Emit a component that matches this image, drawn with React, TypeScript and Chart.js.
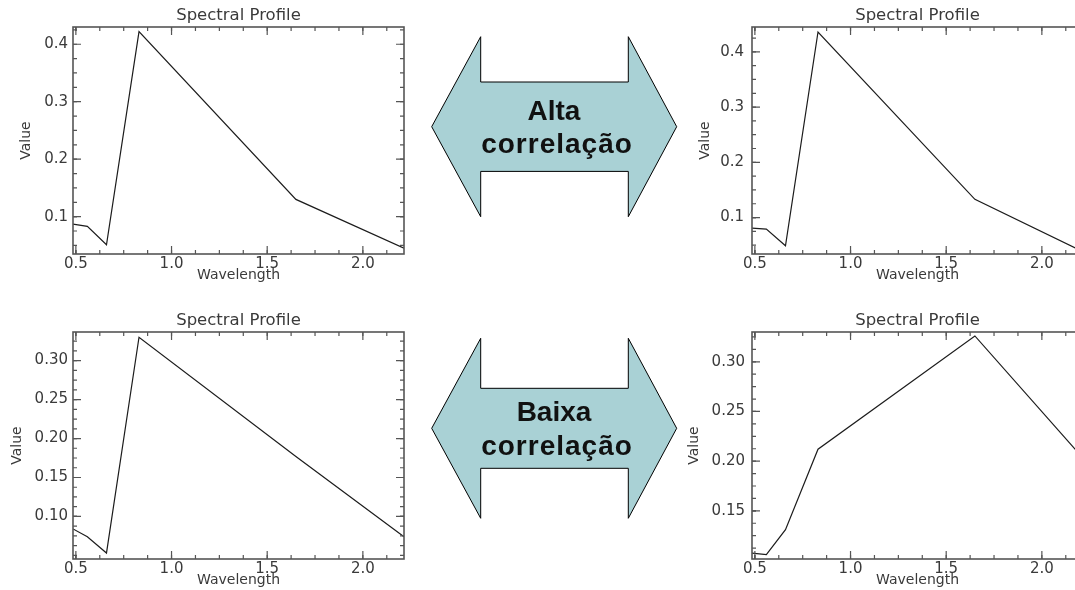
import React, { useEffect, useRef } from 'react';
import { Chart, registerables } from 'chart.js';

Chart.register(...registerables);

// ---------- data ----------
const WAVELENGTHS = [0.485, 0.56, 0.66, 0.83, 1.65, 2.215];
const HIGH_LEFT = [0.087, 0.083, 0.051, 0.422, 0.13, 0.045];
const HIGH_RIGHT = [0.081, 0.079, 0.049, 0.436, 0.133, 0.038];
const LOW_LEFT = [0.084, 0.074, 0.053, 0.33, 0.177, 0.074];
const LOW_RIGHT = [0.1075, 0.106, 0.131, 0.212, 0.326, 0.203];

const X_TICKS = [0.5, 1.0, 1.5, 2.0];
const X_TICK_LABELS = ['0.5', '1.0', '1.5', '2.0'];
const Y_TICKS_HIGH = [0.1, 0.2, 0.3, 0.4];
const Y_TICK_LABELS_HIGH = ['0.1', '0.2', '0.3', '0.4'];
const Y_TICKS_LOW_LEFT = [0.1, 0.15, 0.2, 0.25, 0.3];
const Y_TICK_LABELS_LOW_LEFT = ['0.10', '0.15', '0.20', '0.25', '0.30'];
const Y_TICKS_LOW_RIGHT = [0.15, 0.2, 0.25, 0.3];
const Y_TICK_LABELS_LOW_RIGHT = ['0.15', '0.20', '0.25', '0.30'];

const X_RANGE = [0.485, 2.215];
const Y_RANGE_HIGH_LEFT = [0.035, 0.43];
const Y_RANGE_HIGH_RIGHT = [0.034, 0.445];
const Y_RANGE_LOW_LEFT = [0.0454, 0.3367];
const Y_RANGE_LOW_RIGHT = [0.1015, 0.33];

const CHART_TITLE = 'Spectral Profile';
const X_TITLE = 'Wavelength';
const Y_TITLE = 'Value';
const ARROW_HIGH = ['Alta', 'correlação'];
const ARROW_LOW = ['Baixa', 'correlação'];

// ---------- style ----------
const TEXT = '#3a3a3a';
const FONT = '"DejaVu Sans", sans-serif';

const idlFrame = {
  id: 'idlFrame',
  afterDatasetsDraw(chart: any) {
    const { ctx, chartArea: a, scales } = chart;
    const x = scales.x;
    const y = scales.y;
    ctx.save();
    ctx.strokeStyle = '#555';
    ctx.lineWidth = 1.6;
    ctx.strokeRect(a.left, a.top, a.right - a.left, a.bottom - a.top);
    ctx.lineWidth = 1.2;
    const drawX = (v: number, len: number) => {
      const px = x.getPixelForValue(v);
      if (px < a.left + 1 || px > a.right - 1) return;
      ctx.beginPath();
      ctx.moveTo(px, a.bottom);
      ctx.lineTo(px, a.bottom - len);
      ctx.moveTo(px, a.top);
      ctx.lineTo(px, a.top + len);
      ctx.stroke();
    };
    const drawY = (v: number, len: number) => {
      const py = y.getPixelForValue(v);
      if (py < a.top + 1 || py > a.bottom - 1) return;
      ctx.beginPath();
      ctx.moveTo(a.left, py);
      ctx.lineTo(a.left + len, py);
      ctx.moveTo(a.right, py);
      ctx.lineTo(a.right - len, py);
      ctx.stroke();
    };
    const minorTicks = (scale: any, draw: (v: number, l: number) => void) => {
      const t = scale.ticks.map((k: any) => k.value);
      const step = (t[1] - t[0]) / 4;
      for (let v = t[0]; v >= scale.min; v -= step) draw(v, 4);
      for (let v = t[0]; v <= scale.max; v += step) draw(v, 4);
      t.forEach((v: number) => draw(v, 8));
    };
    minorTicks(x, drawX);
    minorTicks(y, drawY);
    ctx.restore();
  },
};

type PanelProps = {
  left: number;
  top: number;
  values: number[];
  yRange: number[];
  yTicks: number[];
  yTickLabels: string[];
  yPad: number;
  yTitlePad: number;
};

function Panel({ left, top, values, yRange, yTicks, yTickLabels, yPad, yTitlePad }: PanelProps) {
  const ref = useRef<HTMLCanvasElement>(null);
  useEffect(() => {
    if (!ref.current) return;
    const chart = new Chart(ref.current, {
      type: 'line',
      data: {
        datasets: [
          {
            data: WAVELENGTHS.map((w, i) => ({ x: w, y: values[i] })),
            borderColor: '#1c1c1c',
            borderWidth: 1.2,
            pointRadius: 0,
            tension: 0,
          },
        ],
      },
      options: {
        animation: false,
        responsive: false,
        layout: { padding: { left: 0, top: 0, right: 16, bottom: 0 } },
        plugins: {
          legend: { display: false },
          tooltip: { enabled: false },
          title: {
            display: true,
            text: CHART_TITLE,
            color: TEXT,
            fullSize: false,
            font: { family: FONT, size: 16.5, weight: 'normal' },
            padding: { top: 5.5, bottom: 1.7 },
          },
        },
        scales: {
          x: {
            type: 'linear',
            min: X_RANGE[0],
            max: X_RANGE[1],
            afterBuildTicks: (s: any) => {
              s.ticks = X_TICKS.map((value) => ({ value }));
            },
            afterFit: (s: any) => {
              s.height = 36;
            },
            grid: { display: false, drawTicks: false },
            border: { display: false },
            ticks: {
              autoSkip: false,
              maxRotation: 0,
              padding: 1,
              color: TEXT,
              font: { family: FONT, size: 15 },
              callback: (_v: any, i: number) => X_TICK_LABELS[i],
            },
            title: {
              display: true,
              text: X_TITLE,
              color: TEXT,
              font: { family: FONT, size: 14 },
              padding: { top: 0, bottom: 6 },
            },
          },
          y: {
            type: 'linear',
            min: yRange[0],
            max: yRange[1],
            afterBuildTicks: (s: any) => {
              s.ticks = yTicks.map((value) => ({ value }));
            },
            afterFit: (s: any) => {
              s.width = 73;
            },
            grid: { display: false, drawTicks: false },
            border: { display: false },
            ticks: {
              autoSkip: false,
              padding: yPad,
              color: TEXT,
              font: { family: FONT, size: 15 },
              callback: (_v: any, i: number) => yTickLabels[i],
            },
            title: {
              display: true,
              text: Y_TITLE,
              color: TEXT,
              font: { family: FONT, size: 14 },
              padding: { top: yTitlePad, bottom: 0 },
            },
          },
        },
      } as any,
      plugins: [idlFrame],
    });
    return () => chart.destroy();
  }, []);
  return (
    <canvas
      ref={ref}
      width={420}
      height={290}
      style={{ position: 'absolute', left, top, width: 420, height: 290 }}
    />
  );
}

const ARROW_FONT = '"Liberation Sans", Arial, sans-serif';

function DoubleArrow({ cy, headHalf, shaftHalf, lines }: { cy: number; headHalf: number; shaftHalf: number; lines: string[] }) {
  const l = 431.7, hl = 480.7, hr = 628.3, r = 676.7;
  const pts = [
    [l, cy],
    [hl, cy - headHalf],
    [hl, cy - shaftHalf],
    [hr, cy - shaftHalf],
    [hr, cy - headHalf],
    [r, cy],
    [hr, cy + headHalf],
    [hr, cy + shaftHalf],
    [hl, cy + shaftHalf],
    [hl, cy + headHalf],
  ]
    .map((p) => p.join(','))
    .join(' ');
  return (
    <g>
      <polygon points={pts} fill="#a9d1d5" stroke="#000" strokeWidth={1} />
      <text x={554} y={cy - 7} textAnchor="middle" fontFamily={ARROW_FONT} fontWeight="bold" fontSize={28} fill="#111">
        {lines[0]}
      </text>
      <text x={557} y={cy + 26.5} textAnchor="middle" fontFamily={ARROW_FONT} fontWeight="bold" fontSize={28} letterSpacing={1} fill="#111">
        {lines[1]}
      </text>
    </g>
  );
}

export default function App() {
  return (
    <div
      style={{
        position: 'fixed',
        left: 0,
        top: 0,
        width: 1075,
        height: 590,
        overflow: 'hidden',
        background: '#fff',
      }}
    >
      <Panel left={0} top={0} values={HIGH_LEFT} yRange={Y_RANGE_HIGH_LEFT} yTicks={Y_TICKS_HIGH} yTickLabels={Y_TICK_LABELS_HIGH} yPad={5} yTitlePad={18} />
      <Panel left={679} top={0} values={HIGH_RIGHT} yRange={Y_RANGE_HIGH_RIGHT} yTicks={Y_TICKS_HIGH} yTickLabels={Y_TICK_LABELS_HIGH} yPad={8} yTitlePad={17.5} />
      <Panel left={0} top={305} values={LOW_LEFT} yRange={Y_RANGE_LOW_LEFT} yTicks={Y_TICKS_LOW_LEFT} yTickLabels={Y_TICK_LABELS_LOW_LEFT} yPad={5} yTitlePad={9} />
      <Panel left={679} top={305} values={LOW_RIGHT} yRange={Y_RANGE_LOW_RIGHT} yTicks={Y_TICKS_LOW_RIGHT} yTickLabels={Y_TICK_LABELS_LOW_RIGHT} yPad={7} yTitlePad={7} />
      <svg width={1075} height={590} style={{ position: 'absolute', left: 0, top: 0, pointerEvents: 'none' }}>
        <DoubleArrow cy={126.7} headHalf={90} shaftHalf={44.7} lines={ARROW_HIGH} />
        <DoubleArrow cy={428.3} headHalf={90} shaftHalf={40} lines={ARROW_LOW} />
      </svg>
    </div>
  );
}
